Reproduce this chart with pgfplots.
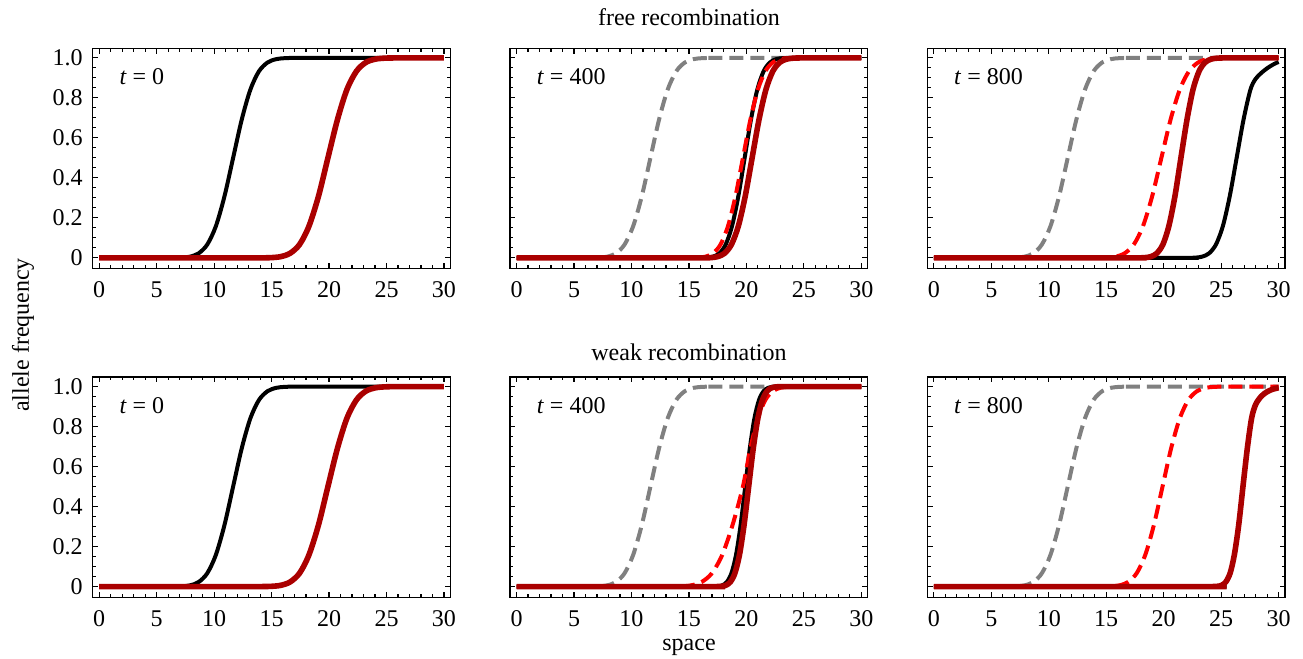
\documentclass[border=0pt]{standalone}
\usepackage{fontspec}
\setmainfont{Liberation Serif}
\usepackage{pgfplots}
\usepackage{pgfplotstable}
\pgfplotsset{compat=1.18}

\definecolor{dred}{RGB}{170,0,0}
\definecolor{mgray}{RGB}{128,128,128}

% clines: x = position in space, y = allele frequency
\pgfplotstableread{
x y
0 0
5.65 0
6.4 0.0002
7.15 0.0013
7.9 0.0062
8.65 0.0228
9.4 0.0668
10.15 0.1587
10.9 0.3085
11.65 0.5
12.4 0.6915
13.15 0.8413
13.9 0.9332
14.65 0.9772
15.4 0.9938
16.15 0.9987
16.9 0.9998
17.65 1
30 1
}\initBlack

\pgfplotstableread{
x y
0 0
13.3 0
14.13 0.0002
14.95 0.0013
15.78 0.0062
16.6 0.0228
17.43 0.0668
18.25 0.1587
19.08 0.3085
19.9 0.5
20.73 0.6915
21.55 0.8413
22.38 0.9332
23.2 0.9772
24.03 0.9938
24.85 0.9987
25.68 0.9998
26.5 1
30 1
}\initRed

\pgfplotstableread{
x y
0 0
15.45 0
16.0 0.0002
16.55 0.0013
17.1 0.0062
17.65 0.0228
18.2 0.0668
18.75 0.1587
19.3 0.3085
19.85 0.5
20.4 0.6915
20.95 0.8413
21.5 0.9332
22.05 0.9772
22.6 0.9938
23.15 0.9987
23.7 0.9998
24.25 1
30 1
}\freeBlackB

\pgfplotstableread{
x y
0 0
14.5 0
15.15 0.0002
15.8 0.0013
16.45 0.0062
17.1 0.0228
17.75 0.0668
18.4 0.1587
19.05 0.3085
19.7 0.5
20.35 0.6915
21.0 0.8413
21.65 0.9332
22.3 0.9772
22.95 0.9938
23.6 0.9987
24.25 0.9998
24.9 1
30 1
}\freeRedDashB

\pgfplotstableread{
x y
0 0
15.7 0
16.3 0.0002
16.9 0.0013
17.5 0.0062
18.1 0.0228
18.7 0.0668
19.3 0.1587
19.9 0.3085
20.5 0.5
21.1 0.6915
21.7 0.8413
22.3 0.9332
22.9 0.9772
23.5 0.9938
24.1 0.9987
24.7 0.9998
25.3 1
30 1
}\freeDredB

\pgfplotstableread{
x y
0 0
13.4 0
14.2 0.0002
15.0 0.0013
15.8 0.0062
16.6 0.0228
17.4 0.0668
18.2 0.1587
19.0 0.3085
19.8 0.5
20.6 0.6915
21.4 0.8413
22.2 0.9332
23.0 0.9772
23.8 0.9938
24.6 0.9987
25.4 0.9998
26.2 1
30 1
}\freeRedDashC

\pgfplotstableread{
x y
0 0
17.3 0
17.83 0.0002
18.35 0.0013
18.88 0.0062
19.4 0.0228
19.93 0.0668
20.45 0.1587
20.98 0.3085
21.5 0.5
22.03 0.6915
22.55 0.8413
23.08 0.9332
23.6 0.9772
24.13 0.9938
24.65 0.9987
25.18 0.9998
25.7 1
30 1
}\freeDredC

\pgfplotstableread{
x y
0 0
21.55 0
22.15 0.0002
22.75 0.0013
23.35 0.0062
23.95 0.0228
24.55 0.0668
25.15 0.1587
25.75 0.3085
26.35 0.5
26.95 0.6915
27.55 0.8413
28.0 0.895
28.5 0.925
29.0 0.948
29.5 0.966
30 0.98
}\freeBlackC

\pgfplotstableread{
x y
0 0
16.7 0
17.1 0.0002
17.5 0.0013
17.9 0.0062
18.3 0.0228
18.7 0.0668
19.1 0.1587
19.5 0.3085
19.9 0.5
20.3 0.6915
20.7 0.8413
21.1 0.9332
21.5 0.9772
21.9 0.9938
22.3 0.9987
22.7 0.9998
23.1 1
30 1
}\weakBlackB

\pgfplotstableread{
x y
0 0
17.0 0
17.4 0.0002
17.8 0.0013
18.2 0.0062
18.6 0.0228
19.0 0.0668
19.4 0.1587
19.8 0.3085
20.2 0.5
20.6 0.6915
21.0 0.8413
21.4 0.9332
21.8 0.9772
22.2 0.9938
22.6 0.9987
23.0 0.9998
23.4 1
30 1
}\weakDredB

\pgfplotstableread{
x y
0 0
12.5 0
13.4 0.0002
14.3 0.0013
15.2 0.0062
16.1 0.0228
17.0 0.0668
17.9 0.1587
18.8 0.3085
19.7 0.5
20.35 0.6915
21.0 0.8413
21.65 0.9332
22.3 0.9772
22.95 0.9938
23.6 0.9987
24.25 0.9998
24.9 1
30 1
}\weakRedDashB

\pgfplotstableread{
x y
0 0
13.9 0
14.65 0.0002
15.4 0.0013
16.15 0.0062
16.9 0.0228
17.65 0.0668
18.4 0.1587
19.15 0.3085
19.9 0.5
20.65 0.6915
21.4 0.8413
22.15 0.9332
22.9 0.9772
23.65 0.9938
24.4 0.9987
25.15 0.9998
25.9 1
30 1
}\weakRedDashC

\pgfplotstableread{
x y
0 0
23.9 0
24.28 0.0002
24.65 0.0013
25.03 0.0062
25.4 0.0228
25.78 0.0668
26.15 0.1587
26.53 0.3085
26.9 0.5
27.28 0.6915
27.65 0.8413
28.0 0.91
28.5 0.952
29.0 0.974
29.5 0.987
30 0.994
}\weakDredC

\pgfplotsset{
  panel/.style={
    scale only axis,
    anchor=south west,
    width=178.8pt, height=110.2pt,
    xmin=-0.57, xmax=30.55,
    ymin=-0.054, ymax=1.048,
    xtick={0,5,...,30},
    minor x tick num=4,
    ytick={0,0.2,0.4,0.6,0.8,1},
    minor y tick num=3,
    tick align=inside,
    major tick length=2.7pt,
    minor tick length=1.7pt,
    tick style={black, line width=0.6pt},
    axis line style={line width=0.6pt},
    /pgf/number format/assume math mode=true,
    tick label style={font=\fontsize{12}{14}\selectfont},
    xticklabel style={yshift=-3pt},
    yticklabel style={xshift=-1.5pt},
  },
  leftpanel/.style={panel, yticklabels={0,0.2,0.4,0.6,0.8,1.0}},
  innerpanel/.style={panel, yticklabels={}},
  blk/.style={black, line width=2pt, smooth},
  drd/.style={dred, line width=2.8pt, smooth},
  gdash/.style={mgray, line width=2pt, smooth, dash pattern=on 7pt off 3.5pt},
  rdash/.style={red, line width=2pt, smooth, dash pattern=on 7pt off 3.5pt},
}
\tikzset{tlab/.style={anchor=base west, font=\fontsize{12}{14}\selectfont}}

\begin{document}
\begin{tikzpicture}
\useasboundingbox (0,0) rectangle (651.5pt,329.5pt);

% ---- free recombination ----
\begin{axis}[leftpanel, at={(46.35pt,195.15pt)}]
\addplot[blk] table {\initBlack};
\addplot[drd] table {\initRed};
\node[tlab] at (axis cs:1.15,0.865) {\textit{t} = 0};
\end{axis}

\begin{axis}[innerpanel, at={(255pt,195.15pt)}]
\addplot[gdash] table {\initBlack};
\addplot[blk] table {\freeBlackB};
\addplot[rdash] table {\freeRedDashB};
\addplot[drd] table {\freeDredB};
\node[tlab] at (axis cs:1.15,0.865) {\textit{t} = 400};
\end{axis}

\begin{axis}[innerpanel, at={(463.65pt,195.15pt)}]
\addplot[gdash] table {\initBlack};
\addplot[blk] table {\freeBlackC};
\addplot[rdash] table {\freeRedDashC};
\addplot[drd] table {\freeDredC};
\node[tlab] at (axis cs:1.15,0.865) {\textit{t} = 800};
\end{axis}

% ---- weak recombination ----
\begin{axis}[leftpanel, at={(46.35pt,30.8pt)}]
\addplot[blk] table {\initBlack};
\addplot[drd] table {\initRed};
\node[tlab] at (axis cs:1.15,0.865) {\textit{t} = 0};
\end{axis}

\begin{axis}[innerpanel, at={(255pt,30.8pt)}]
\addplot[gdash] table {\initBlack};
\addplot[blk] table {\weakBlackB};
\addplot[rdash] table {\weakRedDashB};
\addplot[drd] table {\weakDredB};
\node[tlab] at (axis cs:1.15,0.865) {\textit{t} = 400};
\end{axis}

\begin{axis}[innerpanel, at={(463.65pt,30.8pt)}]
\addplot[gdash] table {\initBlack};
\addplot[blk] table {\weakDredC};
\addplot[rdash] table {\weakRedDashC};
\addplot[drd] table {\weakDredC};
\node[tlab] at (axis cs:1.15,0.865) {\textit{t} = 800};
\end{axis}

\begin{scope}[font=\fontsize{12}{14}\selectfont]
\node[anchor=base] at (344.5pt,316.5pt) {free recombination};
\node[anchor=base] at (344.5pt,149pt) {weak recombination};
\node[anchor=base] at (344.5pt,4pt) {space};
\node[rotate=90] at (11.5pt,162pt) {allele frequency};
\end{scope}
\end{tikzpicture}
\end{document}
